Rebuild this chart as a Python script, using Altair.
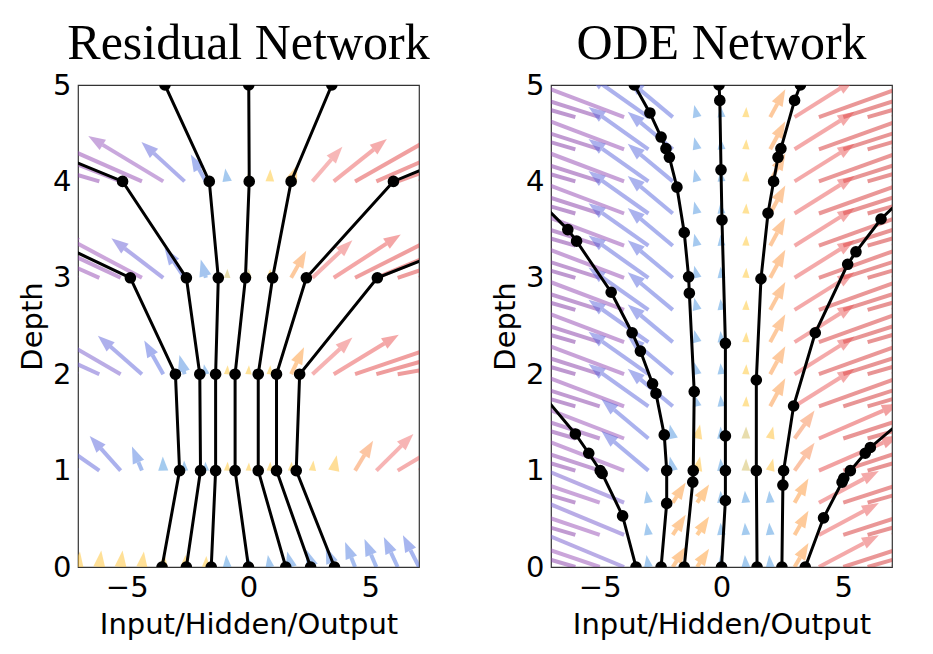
import math
import altair as alt
import pandas as pd

# ---------------- axes / geometry ----------------
X_DOMAIN = [-7, 7]
D_DOMAIN = [0, 5]
PLOT_W, PLOT_H = 341, 482
SX = PLOT_W / (X_DOMAIN[1] - X_DOMAIN[0])
SY = PLOT_H / (D_DOMAIN[1] - D_DOMAIN[0])
HEAD = 17.0
ARROW_PATH = "M0,-1L0.72,1L-0.72,1Z"
X_TICKS = [-5, 0, 5]
Y_TICKS = [0, 1, 2, 3, 4, 5]

# ---------------- Residual network trajectories ----------------
RES_DEPTHS = [0, 1, 2, 3, 4, 5]
RES_T1 = [-3.55, -2.83, -3.00, -4.85, -13.2, -25.0]
RES_T2 = [-2.55, -1.97, -2.00, -2.55, -5.17, -14.8]
RES_T3 = [-1.53, -1.35, -1.35, -1.24, -1.61, -3.43]
RES_T4 = [0.00, -0.55, -0.55, -0.125, 0.03, 0.01]
RES_T5 = [1.53, 0.40, 0.40, 0.99, 1.75, 3.42]
RES_T6 = [2.55, 1.15, 1.15, 2.375, 5.95, 15.5]
RES_T7 = [3.53, 1.96, 2.10, 5.29, 15.3, 28.0]

# ResNet vector field (tails on grid, vector u along x, v along depth)
RES_GRID_X = [-7.0, -6.125, -5.25, -4.375, -3.5, -2.625, -1.75, -0.875, 0.0,
              0.875, 1.75, 2.625, 3.5, 4.375, 5.25, 6.125, 7.0]
RES_ROWS = [0, 1, 2, 3, 4]
RES_U0 = [0.08, 0.08, 0.08, 0.08, 0.04, 0.04, 0.02, -0.04, -0.04, -0.08, -0.16, -0.25, -0.33, -0.41, -0.49, -0.57, -0.66]
RES_V0 = [0.16, 0.17, 0.17, 0.16, 0.135, 0.125, 0.114, 0.125, 0.125, 0.125, 0.16, 0.18, 0.21, 0.26, 0.29, 0.31, 0.33]
RES_U1 = [-1.85, -1.64, -1.27, -0.41, -0.02, -0.02, -0.02, 0.02, 0.02, 0.02, 0.02, 0.04, 0.12, 0.74, 1.52, 2.05, 2.05]
RES_V1 = [0.26, 0.29, 0.36, 0.25, 0.145, 0.104, 0.093, 0.093, 0.083, 0.093, 0.093, 0.104, 0.16, 0.31, 0.38, 0.31, 0.26]
RES_U2 = [-2.46, -2.26, -2.46, -1.81, -0.78, -0.21, -0.08, 0.02, 0.02, 0.02, 0.53, 1.64, 2.67, 3.49, 3.90, 3.90, 3.90]
RES_V2 = [0.26, 0.26, 0.36, 0.40, 0.35, 0.20, 0.104, 0.093, 0.093, 0.093, 0.28, 0.38, 0.41, 0.30, 0.28, 0.17, 0.125]
RES_U3 = [-3.69, -3.69, -3.69, -3.28, -2.13, -0.82, -0.21, 0.01, 0.01, 0.02, 0.62, 1.64, 2.75, 3.69, 3.90, 3.90, 3.90]
RES_V3 = [0.39, 0.41, 0.44, 0.44, 0.41, 0.31, 0.19, 0.093, 0.093, 0.093, 0.28, 0.39, 0.45, 0.47, 0.41, 0.33, 0.31]
RES_U4 = [-4.11, -4.11, -3.90, -3.69, -3.08, -1.77, -0.62, -0.08, 0.01, 0.02, 0.25, 1.23, 2.18, 3.49, 3.69, 3.90, 3.90]
RES_V4 = [0.31, 0.31, 0.39, 0.41, 0.47, 0.41, 0.28, 0.135, 0.104, 0.125, 0.17, 0.36, 0.44, 0.50, 0.41, 0.36, 0.31]

# ---------------- ODE network trajectories (solver evaluation points) ----------------
ODE_A_D = [0, 0.53, 0.97, 1.0, 1.18, 1.38, 2.38]
ODE_A_X = [-3.51, -4.06, -4.90, -4.98, -5.45, -6.0, -9.3]
ODE_B_D = [0, 0.66, 1.0, 1.37, 1.80, 1.90, 2.24, 2.43, 2.85, 3.38, 3.50, 4.2]
ODE_B_X = [-2.48, -2.25, -2.25, -2.35, -2.69, -2.83, -3.33, -3.67, -4.53, -5.95, -6.31, -9.1]
ODE_C_D = [0, 0.88, 1.0, 1.82, 2.84, 3.01, 3.47, 3.94, 4.25, 4.34, 4.46, 4.71, 5.0]
ODE_C_X = [-1.53, -1.18, -1.16, -1.12, -1.32, -1.35, -1.53, -1.83, -2.14, -2.28, -2.48, -2.94, -3.58]
ODE_D_D = [0, 0.69, 1.0, 1.36, 2.32, 3.6, 4.12, 4.84, 5.0]
ODE_D_X = [0.0, 0.16, 0.16, 0.16, 0.16, 0.02, -0.02, -0.07, -0.10]
ODE_E_D = [0, 1.0, 1.94, 2.99, 3.67, 4.0, 4.25, 4.34, 4.84, 5.0]
ODE_E_X = [1.46, 1.43, 1.43, 1.62, 1.91, 2.14, 2.32, 2.44, 3.0, 3.24]
ODE_F_D = [0, 0.85, 1.0, 1.67, 2.43, 3.14, 3.27, 3.61, 4.3]
ODE_F_X = [2.48, 2.52, 2.55, 2.96, 3.85, 5.18, 5.52, 6.55, 9.4]
ODE_G_D = [0, 0.51, 0.88, 0.92, 1.0, 1.18, 1.24, 1.9]
ODE_G_X = [3.44, 4.19, 4.95, 5.02, 5.29, 5.9, 6.11, 9.2]

# ODE vector field: grid columns, rows, and per-band vectors
ODE_GRID_X = [-7, -6, -5, -4, -3, -2, -1, 0, 1, 2, 3, 4, 5, 6, 7]
ODE_ROWS_LOW = [0.0, 0.333, 0.667]
ODE_ROWS_MID = [1.0, 1.333]
ODE_ROWS_HIGH = [1.667, 2.0, 2.333, 2.667, 3.0, 3.333, 3.667, 4.0, 4.333, 4.667]
ODE_U_LOW = [-4.84, -4.84, -4.52, -3.90, -0.08, 0.53, 0.49, -0.04, -0.04, -0.04, 0.57, 2.46, 4.52, 4.84, 4.93]
ODE_V_LOW = [0.33, 0.36, 0.39, 0.41, 0.125, 0.21, 0.19, 0.125, 0.125, 0.125, 0.25, 0.33, 0.37, 0.35, 0.33]
ODE_U_MID = [-4.84, -4.84, -4.72, -4.52, -1.93, -0.12, 0.12, -0.04, 0.01, 0.12, 0.82, 3.28, 4.72, 4.93, 4.93]
ODE_V_MID = [0.33, 0.36, 0.39, 0.44, 0.41, 0.145, 0.145, 0.125, 0.125, 0.125, 0.29, 0.36, 0.39, 0.36, 0.33]
ODE_U_HIGH = [-4.93, -4.93, -4.84, -4.60, -2.46, -1.85, -0.12, -0.04, 0.02, 0.62, 2.46, 4.52, 4.84, 4.93, 4.93]
ODE_V_HIGH = [0.33, 0.36, 0.39, 0.44, 0.44, 0.39, 0.125, 0.114, 0.104, 0.29, 0.39, 0.41, 0.39, 0.36, 0.33]

# colour maps for arrow direction (u)
RES_CMAP_DOMAIN = [-5.0, -3.2, -2.0, -0.7, -0.02, 0.02, 0.5, 1.2, 3.0, 5.0]
ODE_CMAP_DOMAIN = [-5.0, -4.45, -3.6, -1.0, -0.02, 0.02, 0.5, 1.2, 3.0, 5.0]
CMAP_RANGE = ["#7a2e9e", "#9a4fb8", "#6060d8", "#5068e0", "#4a98e0",
              "#ffc630", "#ff9a30", "#f07070", "#e84848", "#d02828"]


def traj_frame(pairs):
    recs = []
    for i, (xs, ds) in enumerate(pairs):
        for x, d in zip(xs, ds):
            recs.append({"traj": i, "x": x, "d": d})
    return pd.DataFrame(recs)


def arrow_frame(xs, rows, U, V):
    recs = []
    for d, ur, vr in zip(rows, U, V):
        for x, u, v in zip(xs, ur, vr):
            px, py = u * SX, v * SY
            L = math.hypot(px, py)
            if L <= 0:
                continue
            hl = min(HEAD, L)
            ts = (L - hl) / L
            th = (L - hl / 2) / L
            recs.append({
                "x": x, "y": d,
                "x2": x + u * ts, "y2": d + v * ts,
                "hx": x + u * th, "hy": d + v * th,
                "ang": math.degrees(math.atan2(px, py)) % 360,
                "size": hl * hl,
                "u": u,
                "shaft": L > hl + 0.5,
            })
    return pd.DataFrame(recs)


res_traj = traj_frame([(t, RES_DEPTHS) for t in [RES_T1, RES_T2, RES_T3, RES_T4, RES_T5, RES_T6, RES_T7]])
res_arrows = arrow_frame(RES_GRID_X, RES_ROWS,
                         [RES_U0, RES_U1, RES_U2, RES_U3, RES_U4],
                         [RES_V0, RES_V1, RES_V2, RES_V3, RES_V4])

ode_traj = traj_frame([(ODE_A_X, ODE_A_D), (ODE_B_X, ODE_B_D), (ODE_C_X, ODE_C_D),
                       (ODE_D_X, ODE_D_D), (ODE_E_X, ODE_E_D), (ODE_F_X, ODE_F_D),
                       (ODE_G_X, ODE_G_D)])
ode_rows = ODE_ROWS_LOW + ODE_ROWS_MID + ODE_ROWS_HIGH
ode_U = [ODE_U_LOW] * len(ODE_ROWS_LOW) + [ODE_U_MID] * len(ODE_ROWS_MID) + [ODE_U_HIGH] * len(ODE_ROWS_HIGH)
ode_V = [ODE_V_LOW] * len(ODE_ROWS_LOW) + [ODE_V_MID] * len(ODE_ROWS_MID) + [ODE_V_HIGH] * len(ODE_ROWS_HIGH)
ode_arrows = arrow_frame(ODE_GRID_X, ode_rows, ode_U, ode_V)

FONT = "DejaVu Sans"


def xenc(field):
    return alt.X(field, type="quantitative",
                 scale=alt.Scale(domain=X_DOMAIN, nice=False, zero=False),
                 axis=alt.Axis(values=X_TICKS, title="Input/Hidden/Output", grid=False,
                               ticks=False, tickSize=0, domain=False, labelFontSize=29,
                               labelFont=FONT, labelColor="black", labelPadding=6,
                               titleFontSize=29, titleFont=FONT, titleFontWeight="normal",
                               titleColor="black", titlePadding=8,
                               labelExpr="datum.value < 0 ? '\u2212' + format(-datum.value, 'd') : format(datum.value, 'd')"))


def yenc(field):
    return alt.Y(field, type="quantitative",
                 scale=alt.Scale(domain=D_DOMAIN, nice=False, zero=False),
                 axis=alt.Axis(values=Y_TICKS, title="Depth", grid=False, ticks=False,
                               tickSize=0, domain=False, labelFontSize=29, labelFont=FONT,
                               labelColor="black", labelPadding=7, titleFontSize=29,
                               titleFont=FONT, titleFontWeight="normal", titleColor="black",
                               titlePadding=5))


def panel(title, traj, arrows, cmap_domain):
    cscale = alt.Scale(domain=cmap_domain, range=CMAP_RANGE, clamp=True, interpolate="rgb")
    color = alt.Color("u:Q", scale=cscale, legend=None)
    shafts = alt.Chart(arrows).transform_filter("datum.shaft").mark_rule(
        strokeWidth=4, opacity=0.5, clip=True, strokeCap="butt"
    ).encode(x=xenc("x"), y=yenc("y"), x2="x2:Q", y2="y2:Q", color=color)
    heads = alt.Chart(arrows).mark_point(
        shape=ARROW_PATH, filled=True, opacity=0.5, clip=True, strokeWidth=0
    ).encode(x=xenc("hx"), y=yenc("hy"),
             angle=alt.Angle("ang:Q", scale=None),
             size=alt.Size("size:Q", scale=None), color=color)
    lines = alt.Chart(traj).mark_line(color="black", strokeWidth=3, clip=True).encode(
        x=xenc("x"), y=yenc("d"), detail="traj:N", order="d:Q")
    dots = alt.Chart(traj).mark_circle(color="black", size=135, opacity=1, clip=True).encode(
        x=xenc("x"), y=yenc("d"))
    return alt.layer(shafts, heads, lines, dots).properties(
        width=PLOT_W, height=PLOT_H,
        title=alt.TitleParams(title, font="Liberation Serif", fontSize=50, fontWeight="normal",
                              color="black", baseline="bottom", offset=-48, anchor="middle",
                              frame="group"))


left = panel("Residual Network", res_traj, res_arrows, RES_CMAP_DOMAIN)
right = panel("ODE Network", ode_traj, ode_arrows, ODE_CMAP_DOMAIN)

chart = alt.hconcat(left, right, spacing=132, bounds="flush").resolve_scale(
    color="independent"
).configure_view(
    stroke="#333333", strokeWidth=1.2
).properties(
    padding={"left": 9, "top": 10, "right": 5, "bottom": 5}, background="white"
)

chart.save("out.html", embed_options={"renderer": "svg", "actions": False})
